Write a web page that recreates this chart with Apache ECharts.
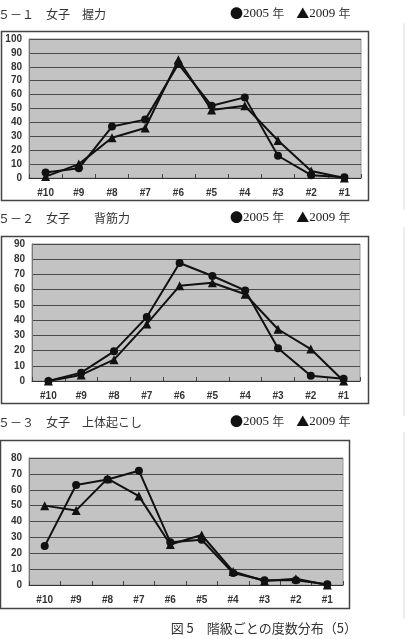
<!DOCTYPE html>
<html>
<head>
<meta charset="utf-8">
<script src="https://cdn.jsdelivr.net/npm/echarts@6/dist/echarts.min.js"></script>
<style>html,body{margin:0;padding:0;background:#fff}#c{width:405px;height:639px}</style>
</head>
<body>
<div id="c"></div>
<script>
const categories = ['#10','#9','#8','#7','#6','#5','#4','#3','#2','#1'];
// 5-1 握力
const grip2005 = [4, 7, 37, 42, 82, 52, 58, 16, 2, 0.5];
const grip2009 = [1, 10, 29, 36, 85, 49, 52, 27, 5, 0];
// 5-2 背筋力
const back2005 = [0, 5.5, 19.5, 42, 77.5, 69, 59.5, 21.5, 3.5, 1.5];
const back2009 = [0, 4, 14, 37.5, 62.5, 64.5, 57, 34, 21, 0];
// 5-3 上体起こし
const situp2005 = [24.5, 63, 66.5, 72, 27, 28.5, 7.5, 3, 3, 0.5];
const situp2009 = [50, 47, 67, 56, 25.5, 31.5, 8.5, 2.5, 4, 0];
const yMax = [100, 90, 80];

const chart = echarts.init(document.getElementById('c'));
const grids = [
  {left: 29, top: 39, width: 332, height: 139},
  {left: 32, top: 244, width: 328, height: 137},
  {left: 29, top: 458, width: 314, height: 127}
];
const lbl = {fontFamily: 'Liberation Sans', fontWeight: 'bold', fontSize: 10, color: '#333'};
const xAxes = grids.map((g, i) => ({
  type: 'category', gridIndex: i, data: categories, boundaryGap: true,
  axisLine: {lineStyle: {color: '#333', width: 1}},
  axisTick: {show: true, inside: true, length: 4, lineStyle: {color: '#444'}},
  axisLabel: Object.assign({margin: 10}, lbl)
}));
const yAxes = grids.map((g, i) => ({
  type: 'value', gridIndex: i, min: 0, max: yMax[i], interval: 10,
  axisLine: {show: true, lineStyle: {color: '#777'}},
  axisTick: {show: false},
  axisLabel: Object.assign({margin: 7}, lbl),
  splitLine: {lineStyle: {color: '#4a4a4a', width: 1}}
}));
const mk = (data, i, sym) => ({
  type: 'line', xAxisIndex: i, yAxisIndex: i, data: data,
  symbol: sym, symbolSize: sym === 'circle' ? 8 : 9,
  lineStyle: {color: '#111', width: 2}, itemStyle: {color: '#111'},
  animation: false
});
const titleFont = {fontFamily: 'Noto Sans CJK JP', fontSize: 12, color: '#333', fontWeight: 'normal'};
const legFont = {
  fontFamily: 'Liberation Serif', fontSize: 13, color: '#222', fontWeight: 'normal',
  rich: {
    s: {fontFamily: 'Noto Sans CJK JP', fontSize: 13, color: '#111'},
    n: {fontFamily: 'Liberation Serif', fontSize: 13, color: '#222'},
    k: {fontFamily: 'Noto Sans CJK JP', fontSize: 12, color: '#444'}
  }
};
const legText = '{s|●}{n|2005 }{k|年　}{s|▲}{n|2009 }{k|年}';
chart.setOption({
  animation: false,
  grid: grids.map(g => Object.assign({show: true, backgroundColor: '#c3c3c3', borderColor: '#999', borderWidth: 1}, g)),
  xAxis: xAxes,
  yAxis: yAxes,
  title: [
    {text: '５－１　女子　握力', left: -2, top: 8, textStyle: titleFont, padding: 0},
    {text: legText, left: 230, top: 7, textStyle: legFont, padding: 0},
    {text: '５－２　女子　　背筋力', left: -2, top: 212, textStyle: titleFont, padding: 0},
    {text: legText, left: 230, top: 211, textStyle: legFont, padding: 0},
    {text: '５－３　女子　上体起こし', left: -2, top: 416, textStyle: titleFont, padding: 0},
    {text: legText, left: 230, top: 415, textStyle: legFont, padding: 0},
    {text: '図 5　階級ごとの度数分布（5）', right: 48, top: 622, textStyle: {fontFamily: 'Noto Sans CJK JP', fontSize: 13, color: '#333', fontWeight: 'normal'}, padding: 0}
  ],
  graphic: [
    {type: 'rect', shape: {x: 1.5, y: 31.5, width: 367, height: 169}, style: {fill: 'none', stroke: '#444', lineWidth: 1.5}, z: -1},
    {type: 'rect', shape: {x: 1.5, y: 236.5, width: 367, height: 167}, style: {fill: 'none', stroke: '#444', lineWidth: 1.5}, z: -1},
    {type: 'rect', shape: {x: 0.5, y: 440.5, width: 349, height: 168}, style: {fill: 'none', stroke: '#444', lineWidth: 1.5}, z: -1},
    {type: 'line', shape: {x1: 404, y1: 23, x2: 404, y2: 210}, style: {stroke: '#ddd', lineWidth: 1}},
    {type: 'line', shape: {x1: 404, y1: 227, x2: 404, y2: 416}, style: {stroke: '#ddd', lineWidth: 1}},
    {type: 'line', shape: {x1: 404, y1: 432, x2: 404, y2: 619}, style: {stroke: '#ddd', lineWidth: 1}}
  ],
  series: [
    mk(grip2005, 0, 'circle'), mk(grip2009, 0, 'triangle'),
    mk(back2005, 1, 'circle'), mk(back2009, 1, 'triangle'),
    mk(situp2005, 2, 'circle'), mk(situp2009, 2, 'triangle')
  ]
});
</script>
</body>
</html>
